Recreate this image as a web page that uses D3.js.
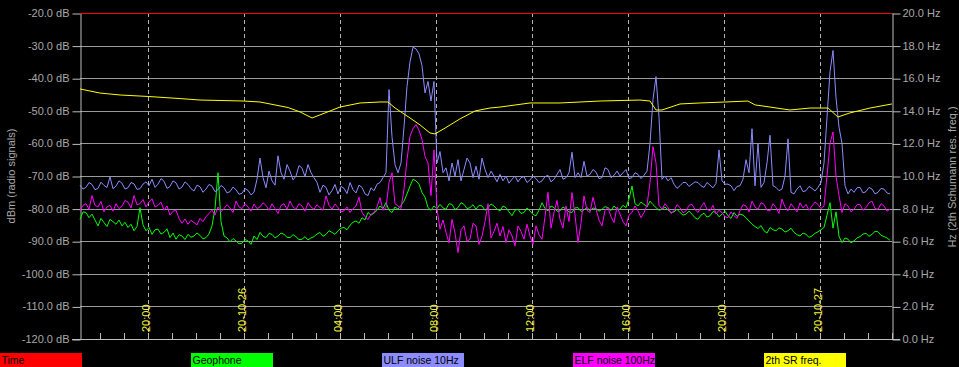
<!DOCTYPE html>
<html>
<head>
<meta charset="utf-8">
<script src="https://cdn.jsdelivr.net/npm/d3@7"></script>
<style>
  html, body { margin: 0; padding: 0; background: #000; }
  svg { display: block; font-family: "Liberation Sans", Arial, sans-serif; }
</style>
</head>
<body>
<svg id="chart" width="959" height="367"></svg>
<script>
// ---------------- DATA ----------------
const startTime = Date.UTC(2020, 9, 25, 17, 10); // 2020-10-25 17:10
const endTime = Date.UTC(2020, 9, 27, 3, 0);     // 2020-10-27 03:00
const stepMinutes = 7.5;

const geophone = [
  -83.3,-81.0,-81.2,-82.8,-81.7,-83.5,-85.3,-83.0,-84.3,-85.5,
  -83.3,-84.0,-84.8,-83.5,-85.3,-84.2,-85.8,-84.8,-86.8,-85.5,
  -79.7,-85.0,-86.8,-85.8,-87.9,-86.5,-86.3,-87.8,-87.3,-86.2,
  -88.9,-87.5,-89.4,-88.0,-88.4,-89.5,-87.9,-88.8,-88.4,-87.5,
  -88.2,-89.3,-88.9,-87.8,-85.3,-80.0,-69.0,-84.0,-88.4,-89.0,
  -90.2,-89.2,-89.9,-90.8,-90.6,-89.5,-89.9,-91.0,-88.4,-89.5,
  -87.3,-88.5,-88.9,-87.6,-87.9,-89.0,-88.4,-87.5,-87.9,-88.8,
  -88.9,-88.0,-88.6,-89.5,-89.4,-88.6,-89.6,-89.0,-88.6,-87.8,
  -87.3,-88.5,-87.9,-86.8,-87.3,-87.9,-86.8,-86.0,-85.8,-86.5,
  -85.1,-84.2,-83.8,-84.5,-82.8,-83.5,-81.2,-82.0,-81.4,-80.5,
  -79.2,-80.0,-78.2,-80.5,-81.2,-79.5,-80.2,-79.0,-77.7,-75.5,
  -73.1,-71.0,-71.5,-72.5,-75.1,-76.5,-79.7,-80.5,-79.2,-80.0,
  -78.7,-79.8,-80.2,-78.5,-78.7,-80.3,-79.7,-78.2,-78.7,-80.0,
  -79.7,-78.8,-80.2,-79.0,-79.2,-80.5,-79.7,-78.6,-79.2,-80.2,
  -80.7,-79.2,-79.7,-81.0,-82.2,-80.5,-80.2,-81.5,-81.2,-79.8,
  -80.7,-81.8,-82.2,-80.5,-78.2,-80.0,-80.7,-79.2,-79.7,-80.8,
  -80.7,-79.5,-80.2,-81.0,-81.2,-79.8,-79.7,-80.9,-80.4,-79.6,
  -80.7,-79.8,-80.0,-80.8,-80.2,-79.4,-79.7,-80.6,-79.2,-80.2,
  -80.2,-79.0,-79.7,-77.0,-73.1,-78.5,-79.2,-78.0,-78.7,-79.5,
  -77.7,-78.8,-79.7,-80.5,-80.2,-79.5,-80.4,-81.2,-81.0,-80.2,
  -81.2,-82.0,-81.7,-80.8,-81.7,-82.8,-83.3,-82.0,-81.4,-82.6,
  -82.2,-80.9,-81.2,-82.5,-81.7,-80.8,-82.2,-83.0,-81.2,-82.4,
  -81.7,-82.0,-82.8,-83.8,-84.8,-85.5,-86.1,-85.2,-86.8,-87.5,
  -85.8,-86.5,-86.8,-85.9,-86.3,-87.2,-86.8,-86.0,-87.3,-88.0,
  -88.4,-87.5,-87.9,-88.8,-88.4,-87.6,-87.1,-86.5,-85.8,-82.0,
  -78.2,-86.0,-81.0,-88.5,-90.4,-89.0,-89.4,-90.5,-89.9,-89.0,
  -88.6,-87.8,-87.6,-88.5,-87.9,-87.0,-87.1,-88.2,-88.6,-89.0,
  -89.7
];

const ulfNoise = [
  -72.8,-74.0,-73.5,-72.0,-72.6,-74.2,-73.8,-71.9,-72.9,-73.5,
  -70.3,-73.9,-73.1,-71.5,-72.2,-74.0,-73.6,-72.0,-72.4,-74.1,
  -73.9,-72.5,-71.8,-73.0,-71.0,-73.5,-72.5,-70.8,-71.6,-73.8,
  -73.2,-71.5,-72.1,-74.0,-73.4,-71.8,-72.6,-73.9,-74.6,-72.8,
  -73.3,-75.0,-74.0,-72.6,-73.1,-74.8,-74.2,-72.9,-73.6,-75.2,
  -74.8,-73.4,-74.2,-75.6,-75.3,-73.9,-74.4,-75.8,-75.0,-71.0,
  -64.5,-70.5,-73.6,-68.5,-71.5,-72.8,-63.8,-69.0,-71.0,-66.5,
  -68.5,-71.2,-70.0,-66.8,-67.6,-70.2,-66.5,-69.0,-70.5,-72.0,
  -75.0,-72.8,-73.5,-75.8,-74.5,-72.6,-75.5,-73.2,-73.8,-75.4,
  -72.0,-74.2,-75.2,-72.8,-73.5,-75.5,-76.0,-73.6,-74.5,-72.5,
  -72.0,-70.5,-69.0,-43.5,-58.0,-66.5,-69.0,-66.0,-55.0,-42.5,
  -35.0,-30.5,-31.0,-32.5,-36.2,-44.5,-41.0,-47.0,-41.0,-66.0,
  -62.5,-69.0,-67.5,-71.5,-66.0,-70.0,-65.0,-71.5,-68.0,-64.5,
  -66.0,-70.5,-67.0,-71.0,-64.5,-68.0,-70.5,-68.5,-70.0,-71.8,
  -69.5,-71.5,-70.0,-72.2,-71.0,-70.0,-71.8,-70.5,-70.2,-72.0,
  -71.2,-70.0,-70.8,-72.0,-71.5,-70.2,-69.8,-71.8,-71.0,-69.5,
  -68.0,-71.0,-70.5,-69.0,-62.7,-70.5,-69.0,-70.5,-65.5,-70.0,
  -69.5,-68.0,-68.8,-70.8,-70.5,-67.5,-68.0,-70.5,-69.8,-68.5,
  -70.0,-69.0,-68.0,-70.8,-70.5,-69.0,-69.5,-70.8,-69.8,-68.5,
  -60.0,-46.5,-39.5,-52.0,-71.0,-70.0,-71.5,-70.5,-72.5,-73.8,
  -73.0,-72.0,-72.0,-73.2,-72.5,-71.8,-72.0,-73.0,-73.5,-72.0,
  -72.8,-73.6,-72.3,-62.0,-71.5,-72.5,-72.5,-73.0,-74.5,-73.2,
  -73.0,-71.0,-65.0,-69.0,-55.5,-73.0,-60.0,-73.5,-72.0,-66.0,
  -57.5,-73.0,-73.5,-74.5,-74.0,-70.0,-58.6,-75.0,-75.5,-74.0,
  -73.0,-74.8,-74.5,-73.2,-73.8,-74.6,-73.5,-72.0,-66.0,-52.0,
  -38.0,-31.5,-46.0,-55.0,-60.0,-73.0,-75.5,-74.0,-75.0,-73.6,
  -73.5,-75.2,-74.8,-73.5,-74.0,-75.5,-75.0,-73.8,-74.0,-75.2,
  -75.5
];

const elfNoise = [
  -80.5,-79.0,-78.5,-80.2,-76.0,-79.0,-79.5,-77.8,-81.0,-79.5,
  -79.0,-80.8,-78.5,-80.0,-79.2,-77.5,-78.0,-79.8,-76.0,-78.8,
  -78.5,-77.2,-79.5,-78.0,-77.0,-79.5,-79.0,-78.0,-80.5,-79.2,
  -82.0,-80.8,-80.5,-83.0,-84.5,-83.2,-84.8,-83.6,-84.3,-85.0,
  -83.0,-84.0,-82.5,-81.5,-80.5,-82.0,-79.5,-81.0,-80.0,-78.8,
  -79.8,-81.2,-77.7,-79.5,-80.0,-78.5,-79.5,-80.8,-78.6,-80.0,
  -79.5,-78.2,-79.0,-80.5,-78.5,-80.0,-81.5,-79.0,-78.5,-80.2,
  -77.7,-79.5,-80.2,-78.5,-79.2,-80.8,-78.2,-79.5,-80.2,-78.8,
  -79.7,-80.5,-76.1,-79.0,-80.2,-78.6,-79.7,-81.0,-80.7,-79.5,
  -81.2,-80.0,-79.2,-76.5,-81.2,-82.5,-83.3,-81.8,-81.2,-79.5,
  -76.6,-80.5,-79.7,-72.0,-69.0,-78.5,-79.2,-80.0,-74.0,-65.0,
  -57.8,-55.5,-54.2,-56.0,-58.8,-64.0,-66.0,-76.0,-62.0,-80.0,
  -86.3,-83.5,-87.3,-90.5,-83.3,-87.5,-93.5,-86.5,-85.3,-90.0,
  -89.4,-84.5,-85.3,-91.0,-88.5,-84.0,-78.5,-89.0,-87.0,-84.5,
  -88.4,-85.5,-90.4,-86.5,-88.4,-91.5,-85.3,-87.0,-89.4,-84.8,
  -88.4,-91.0,-85.3,-88.0,-89.4,-82.5,-75.0,-86.0,-81.2,-77.5,
  -83.3,-86.0,-79.2,-84.0,-75.1,-82.0,-90.4,-84.5,-76.1,-80.5,
  -81.2,-76.5,-80.2,-83.5,-85.3,-80.5,-79.7,-82.5,-84.3,-79.5,
  -81.7,-84.0,-85.3,-82.0,-81.2,-79.2,-80.7,-82.8,-81.2,-79.0,
  -72.0,-61.0,-66.0,-79.0,-80.2,-78.5,-79.7,-81.5,-80.7,-78.8,
  -79.7,-81.3,-80.7,-79.0,-78.7,-80.3,-81.2,-79.5,-78.2,-80.2,
  -80.7,-79.0,-81.7,-80.5,-81.2,-82.5,-82.8,-81.0,-82.2,-83.0,
  -80.7,-78.8,-79.2,-81.0,-77.7,-79.5,-80.2,-78.2,-78.7,-80.5,
  -80.7,-78.5,-79.7,-81.5,-77.1,-79.5,-80.7,-78.5,-79.7,-81.0,
  -78.2,-79.8,-78.7,-80.5,-79.2,-78.0,-78.7,-80.0,-79.2,-70.0,
  -60.0,-56.5,-70.0,-76.0,-81.2,-78.5,-79.2,-81.0,-80.2,-78.8,
  -78.7,-80.5,-79.7,-78.2,-77.7,-80.0,-80.2,-78.5,-79.2,-80.8,
  -80.2
];

// 2th Schumann resonance frequency (Hz), sampled at hours after start
const srHours = [
  0, 0.83, 1.67, 2.83, 4.17, 5.0, 6.83, 7.5, 7.92, 8.67,
  9.17, 9.67, 10.42, 10.83, 11.67, 12.5, 12.83, 13.13, 13.75, 14.17,
  14.58, 14.79, 15.21, 15.83, 16.46, 17.08, 17.5, 18.75, 20.0, 21.67,
  23.33, 23.75, 24.0, 24.25, 25.0, 25.83, 26.88, 27.83, 28.13, 28.75,
  29.58, 30.42, 31.17, 31.58, 32.08, 32.92, 33.83
];
const srFreq = [
  15.34, 15.09, 14.97, 14.88, 14.75, 14.66, 14.60, 14.54, 14.42, 14.20,
  13.93, 13.56, 13.99, 14.23, 14.48, 14.54, 14.54, 14.17, 13.56, 13.13,
  12.64, 12.58, 12.94, 13.50, 13.99, 14.17, 14.23, 14.48, 14.48, 14.60,
  14.66, 14.60, 14.05, 14.05, 14.42, 14.48, 14.54, 14.60, 14.36, 14.23,
  14.05, 14.17, 14.17, 13.62, 13.87, 14.17, 14.42
];

const timeLevel = [-20, -20];

const dbTicks = [-20, -30, -40, -50, -60, -70, -80, -90, -100, -110, -120];
const hzTicks = [20, 18, 16, 14, 12, 10, 8, 6, 4, 2, 0];
const legendItems = ["Time", "Geophone", "ULF noise 10Hz", "ELF noise 100Hz", "2th SR freq."];
const legendColors = ["#ff0000", "#00ff00", "#8c8cff", "#ff00ff", "#ffff00"];

// ---------------- CHART ----------------
const svg = d3.select("#chart");
const L = 80, R = 892, T = 13, B = 339;

const x = d3.scaleUtc().domain([startTime, endTime]).range([L, R]);
const yDb = d3.scaleLinear().domain([-120, -20]).range([B, T]);
const yHz = d3.scaleLinear().domain([0, 20]).range([B, T]);

svg.append("rect").attr("width", 959).attr("height", 367).attr("fill", "#000");

// horizontal grid
svg.append("g").selectAll("line").data(dbTicks.filter(d => d > -120 && d < -20)).join("line")
  .attr("x1", L).attr("x2", R)
  .attr("y1", d => Math.round(yDb(d)) + 0.5).attr("y2", d => Math.round(yDb(d)) + 0.5)
  .attr("stroke", "#9a9a9a").attr("stroke-width", 1);

// vertical dashed grid (every 4 hours)
const majorTicks = x.ticks(d3.utcHour.every(4));
svg.append("g").selectAll("line").data(majorTicks).join("line")
  .attr("x1", d => Math.round(x(d)) + 0.5).attr("x2", d => Math.round(x(d)) + 0.5)
  .attr("y1", T).attr("y2", B)
  .attr("stroke", "#b4b4b4").attr("stroke-width", 1).attr("stroke-dasharray", "4,3");

// minor hourly ticks
const hourTicks = x.ticks(d3.utcHour.every(1));
svg.append("g").selectAll("line").data(hourTicks).join("line")
  .attr("x1", d => Math.round(x(d)) + 0.5).attr("x2", d => Math.round(x(d)) + 0.5)
  .attr("y1", B - 6).attr("y2", B)
  .attr("stroke", "#bdbdbd").attr("stroke-width", 1);

// bottom line
svg.append("line").attr("x1", L - 8).attr("x2", R + 8)
  .attr("y1", B + 0.5).attr("y2", B + 0.5).attr("stroke", "#bdbdbd");

// left axis
const axL = svg.append("g").attr("transform", `translate(${L + 0.5},0)`)
  .call(d3.axisLeft(yDb).tickValues(dbTicks).tickFormat(d => d.toFixed(1) + " dB").tickSize(8).tickSizeOuter(0).tickPadding(3));
// right axis
const axR = svg.append("g").attr("transform", `translate(${R + 0.5},0)`)
  .call(d3.axisRight(yHz).tickValues(hzTicks).tickFormat(d => d.toFixed(1) + " Hz").tickSize(8).tickSizeOuter(0).tickPadding(2));
[axL, axR].forEach(ax => {
  ax.select(".domain").attr("stroke", "#bdbdbd");
  ax.selectAll(".tick line").attr("stroke", "#bdbdbd").attr("transform", "translate(0,0.5)");
  ax.selectAll(".tick text").attr("fill", "#a8a8a8").attr("font-size", 11)
    .attr("font-family", "'Liberation Sans', Arial, sans-serif");
});

// axis titles
svg.append("text").attr("transform", "translate(14.5,176) rotate(-90)")
  .attr("text-anchor", "middle").attr("fill", "#a8a8a8").attr("font-size", 11)
  .text("dBm (radio signals)");
svg.append("text").attr("transform", "translate(956,177) rotate(-90)")
  .attr("text-anchor", "middle").attr("fill", "#a8a8a8").attr("font-size", 11)
  .text("Hz (2th Schumann res. freq.)");

// x labels (rotated, yellow)
const fmtTime = d3.utcFormat("%H:%M");
const fmtDay = d3.utcFormat("%y-%m-%d");
svg.append("g").selectAll("text").data(majorTicks).join("text")
  .attr("transform", d => `translate(${x(d) + 2},332) rotate(-90)`)
  .attr("text-anchor", "start").attr("fill", "#f2f23a").attr("font-size", 11)
  .text(d => (d.getUTCHours() === 0 ? fmtDay(d) : fmtTime(d)));

// series
const tAt = i => new Date(startTime + i * stepMinutes * 60000);
const lineDb = d3.line().x((d, i) => x(tAt(i))).y(d => yDb(d));

svg.append("path").datum(geophone).attr("d", lineDb)
  .attr("fill", "none").attr("stroke", "#00ff00").attr("stroke-width", 1);
svg.append("path").datum(ulfNoise).attr("d", lineDb)
  .attr("fill", "none").attr("stroke", "#8c8cff").attr("stroke-width", 1);
svg.append("path").datum(elfNoise).attr("d", lineDb)
  .attr("fill", "none").attr("stroke", "#ff00ff").attr("stroke-width", 1);

const srData = srHours.map((h, i) => ({ t: new Date(startTime + h * 3600000), v: srFreq[i] }));
svg.append("path").datum(srData)
  .attr("d", d3.line().x(d => x(d.t)).y(d => yHz(d.v)))
  .attr("fill", "none").attr("stroke", "#ffff00").attr("stroke-width", 1);

// Time trace (red, top)
svg.append("path").datum(timeLevel)
  .attr("d", d3.line().x((d, i) => x(i === 0 ? startTime : endTime)).y(d => Math.round(yDb(d)) + 0.5))
  .attr("fill", "none").attr("stroke", "#ff0000").attr("stroke-width", 1);

// legend
const lg = svg.append("g").selectAll("g").data(legendItems).join("g")
  .attr("transform", (d, i) => `translate(${i * 191},353)`);
lg.append("rect").attr("width", 82).attr("height", 15).attr("fill", (d, i) => legendColors[i]);
lg.append("text").attr("x", 1.5).attr("y", 11).attr("font-size", 10.5).attr("fill", "#000").text(d => d);
</script>
</body>
</html>
